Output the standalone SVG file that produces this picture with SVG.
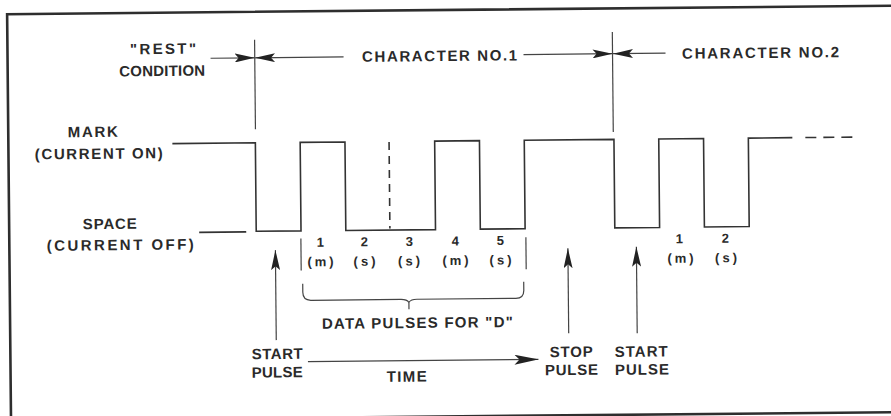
<svg xmlns="http://www.w3.org/2000/svg" width="891" height="416" viewBox="0 0 891 416">
<style>
.ln{fill:none;stroke:#333;stroke-width:1.6}
.thin{fill:none;stroke:#444;stroke-width:1.2}
.lab{font-family:"Liberation Sans",Arial,sans-serif;font-weight:bold;font-size:15px;fill:#2a2a2a}
.num{font-family:"Liberation Sans",Arial,sans-serif;font-weight:bold;font-size:13px;fill:#2a2a2a}
.mid{text-anchor:middle}
</style>
<defs>
<marker id="ah" viewBox="0 0 20 9" refX="20" refY="4.5" markerWidth="20" markerHeight="9" markerUnits="userSpaceOnUse" orient="auto">
<path d="M0,0 L20,4.5 L0,9 L4,4.5 Z" fill="#222"/>
</marker>
<marker id="ahl" viewBox="0 0 24 10" refX="24" refY="5" markerWidth="24" markerHeight="10" markerUnits="userSpaceOnUse" orient="auto">
<path d="M0,0 L24,5 L0,10 L5,5 Z" fill="#222"/>
</marker>
</defs>
<rect width="891" height="416" fill="#fff"/>
<g transform="rotate(-0.55 445 208)">
<g id="border">
<path d="M910,10 H9 V416.5 H910" fill="none" stroke="#2e2e2e" stroke-width="2.6"/>
</g>
<g id="waveform">
<path class="ln" d="M173,141 H256 V229.5 H300.8 V141 H345.6 V229.5 H435.3 V141 H480.1 V229.5 H524.9 V141 H614.6 V229.5 H659.4 V141 H704.2 V229.5 H749 V141 H793"/>
<path class="ln" d="M199,230 H246"/>
<path class="ln" d="M806,141 H860" stroke-dasharray="11 7"/>
<path class="ln" d="M389.7,141.5 V228" stroke-dasharray="8 6"/>
</g>
<g id="char-markers">
<path class="thin" d="M256.2,38 V127.5"/>
<path class="thin" d="M614,33.5 V133.5"/>
</g>
<g id="connectors">
<path class="thin" d="M212,56 H256" marker-end="url(#ah)"/>
<path class="thin" d="M345,56 H256.5" marker-end="url(#ah)"/>
<path class="thin" d="M525,55.3 H614" marker-end="url(#ah)"/>
<path class="thin" d="M667,55.3 H614.5" marker-end="url(#ah)"/>
<path class="thin" d="M275,338.5 V248.5" marker-end="url(#ah)"/>
<path class="thin" d="M567.5,334.5 V249.5" marker-end="url(#ah)"/>
<path class="thin" d="M636,335 V248.5" marker-end="url(#ah)"/>
<path class="thin" d="M306.5,360.3 H537" marker-end="url(#ahl)"/>
</g>
<g id="data-bracket">
<path class="thin" d="M300.6,237 V269"/>
<path class="thin" d="M525.6,238 V270"/>
<path class="thin" d="M302,282.5 V291 Q302,299 310,299 H400 Q406,299 408,302 Q410,299 416,299 H515 Q523,299 523,291 V282.5 M408,302 V309"/>
</g>
<g id="rest-label">
<text class="lab" x="131.5" y="51.3" textLength="66" lengthAdjust="spacing">"REST"</text>
<text class="lab" x="120.5" y="73.3" textLength="86" lengthAdjust="spacing">CONDITION</text>
</g>
<g id="char1-label">
<text class="lab" x="363.5" y="61" textLength="155" lengthAdjust="spacing">CHARACTER NO.1</text>
</g>
<g id="char2-label">
<text class="lab" x="683.5" y="61" textLength="157" lengthAdjust="spacing">CHARACTER NO.2</text>
</g>
<g id="mark-label">
<text class="lab" x="68.5" y="133.6" textLength="50" lengthAdjust="spacing">MARK</text>
<text class="lab" x="35.3" y="155.5" textLength="128" lengthAdjust="spacing">(CURRENT ON)</text>
</g>
<g id="space-label">
<text class="lab" x="82.6" y="225.8" textLength="54" lengthAdjust="spacing">SPACE</text>
<text class="lab" x="46.4" y="247" textLength="147" lengthAdjust="spacing">(CURRENT OFF)</text>
</g>
<g id="bits-char1">
<text class="num mid" x="320" y="245.5">1</text>
<text class="num mid" x="364" y="245.5">2</text>
<text class="num mid" x="409" y="245.5">3</text>
<text class="num mid" x="455" y="245.5">4</text>
<text class="num mid" x="500" y="245.5">5</text>
<text class="num" x="307" y="265" textLength="26" lengthAdjust="spacing">(m)</text>
<text class="num" x="353" y="265" textLength="22" lengthAdjust="spacing">(s)</text>
<text class="num" x="397.5" y="265" textLength="22" lengthAdjust="spacing">(s)</text>
<text class="num" x="442" y="265" textLength="26" lengthAdjust="spacing">(m)</text>
<text class="num" x="489" y="265" textLength="22" lengthAdjust="spacing">(s)</text>
</g>
<g id="bits-char2">
<text class="num mid" x="679" y="245.5">1</text>
<text class="num mid" x="725" y="245.5">2</text>
<text class="num" x="667" y="265" textLength="26" lengthAdjust="spacing">(m)</text>
<text class="num" x="714.5" y="265" textLength="22" lengthAdjust="spacing">(s)</text>
</g>
<g id="data-label">
<text class="lab" x="320.8" y="327.7" textLength="191" lengthAdjust="spacing">DATA PULSES FOR "D"</text>
</g>
<g id="start-pulse-1">
<text class="lab" x="250.3" y="357.4" textLength="51" lengthAdjust="spacing">START</text>
<text class="lab" x="250.1" y="375.8" textLength="51" lengthAdjust="spacing">PULSE</text>
</g>
<g id="time-label">
<text class="lab" x="385" y="381.3" textLength="40" lengthAdjust="spacing">TIME</text>
</g>
<g id="stop-pulse">
<text class="lab" x="548.3" y="358.2" textLength="43" lengthAdjust="spacing">STOP</text>
<text class="lab" x="543.3" y="376.2" textLength="53" lengthAdjust="spacing">PULSE</text>
</g>
<g id="start-pulse-2">
<text class="lab" x="613.3" y="358.5" textLength="53" lengthAdjust="spacing">START</text>
<text class="lab" x="613.3" y="376.5" textLength="54" lengthAdjust="spacing">PULSE</text>
</g>
</g>
</svg>
